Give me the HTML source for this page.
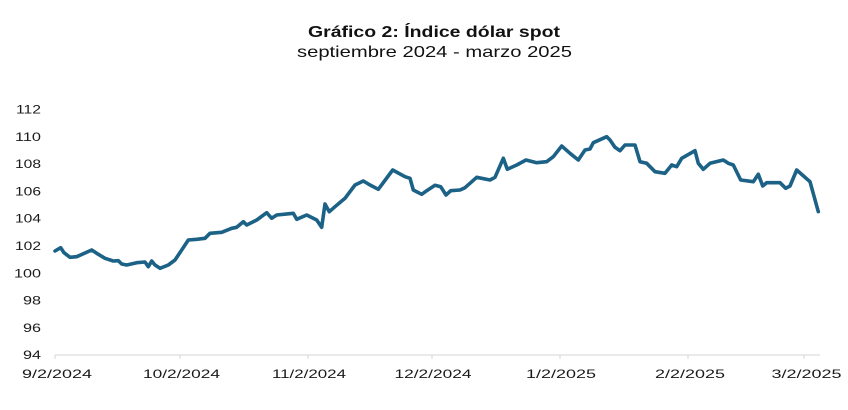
<!DOCTYPE html>
<html>
<head>
<meta charset="utf-8">
<style>
  html,body{margin:0;padding:0;background:#fff;}
  svg{display:block;}
  text{font-family:"Liberation Sans", sans-serif;fill:#1a1a1a;}
</style>
</head>
<body>
<svg width="848" height="410" viewBox="0 0 848 410" xmlns="http://www.w3.org/2000/svg">
  <rect width="848" height="410" fill="#fff"/>
  <text x="434" y="37" text-anchor="middle" font-size="16" font-weight="bold" textLength="252" lengthAdjust="spacingAndGlyphs" style="fill:#111">Gráfico 2: Índice dólar spot</text>
  <text x="434.5" y="57" text-anchor="middle" font-size="16" textLength="275" lengthAdjust="spacingAndGlyphs" style="fill:#111">septiembre 2024 - marzo 2025</text>

  <g font-size="11.5" text-anchor="end">
    <text x="41" y="113.5" textLength="25" lengthAdjust="spacingAndGlyphs">112</text>
    <text x="41" y="140.8" textLength="26" lengthAdjust="spacingAndGlyphs">110</text>
    <text x="41" y="168.1" textLength="26" lengthAdjust="spacingAndGlyphs">108</text>
    <text x="41" y="195.4" textLength="26" lengthAdjust="spacingAndGlyphs">106</text>
    <text x="41" y="222.7" textLength="26" lengthAdjust="spacingAndGlyphs">104</text>
    <text x="41" y="250" textLength="26" lengthAdjust="spacingAndGlyphs">102</text>
    <text x="41" y="277.3" textLength="27" lengthAdjust="spacingAndGlyphs">100</text>
    <text x="41" y="304.6" textLength="18" lengthAdjust="spacingAndGlyphs">98</text>
    <text x="41" y="331.9" textLength="18" lengthAdjust="spacingAndGlyphs">96</text>
    <text x="41" y="359.2" textLength="18" lengthAdjust="spacingAndGlyphs">94</text>
  </g>

  <line x1="55" y1="355" x2="820" y2="355" stroke="#d4d4d4" stroke-width="1"/>
  <g stroke="#d4d4d4" stroke-width="1">
    <line x1="55" y1="355" x2="55" y2="359"/>
    <line x1="180" y1="355" x2="180" y2="359"/>
    <line x1="308" y1="355" x2="308" y2="359"/>
    <line x1="432" y1="355" x2="432" y2="359"/>
    <line x1="560" y1="355" x2="560" y2="359"/>
    <line x1="688" y1="355" x2="688" y2="359"/>
    <line x1="804" y1="355" x2="804" y2="359"/>
  </g>

  <g font-size="12" text-anchor="middle">
    <text x="57" y="378" textLength="70" lengthAdjust="spacingAndGlyphs">9/2/2024</text>
    <text x="181.5" y="378" textLength="77" lengthAdjust="spacingAndGlyphs">10/2/2024</text>
    <text x="309" y="378" textLength="74" lengthAdjust="spacingAndGlyphs">11/2/2024</text>
    <text x="433" y="378" textLength="77" lengthAdjust="spacingAndGlyphs">12/2/2024</text>
    <text x="561" y="378" textLength="70" lengthAdjust="spacingAndGlyphs">1/2/2025</text>
    <text x="690" y="378" textLength="70" lengthAdjust="spacingAndGlyphs">2/2/2025</text>
    <text x="806.5" y="378" textLength="70" lengthAdjust="spacingAndGlyphs">3/2/2025</text>
  </g>

  <polyline fill="none" stroke="#1c6186" stroke-width="3.6" stroke-linejoin="round" stroke-linecap="round"
    points="55,251 60.7,247.7 64,252.7 70,257.3 76.7,256.7 91.7,250 96.7,253.3 105,258.3 113.3,261 118.3,260.7 121.7,264 126.7,265 136.7,262.7 145,262 148.3,266.7 151.7,261 155,265 160,268.3 168.3,265 175,260 181.7,250 188.3,240 196.7,239.3 205,238.3 210,233.3 221.7,232.3 231.7,228.3 236.7,227.3 243.3,221.7 246.7,225 256.7,220 266.7,212.7 271.7,218.3 276.7,215 293.3,213.3 296.7,219.3 306.7,215 316.7,220 321.7,227.3 325,204 329.3,211.7 335,206.7 345,198.3 355,185 363.3,181 370,185 378.3,189.3 392.7,170 405,176.7 410,178.3 413.3,190 421.7,194.3 426.7,190.7 435,185.3 440.7,186.7 446,195 450.7,190.7 460,190 465,187.7 476.7,177.3 490,180 495,177.3 503.3,158.3 507.3,169.3 516.7,165 526,160 536.7,162.7 546.7,161.7 553.3,156.7 561.7,146 570,153.3 578.3,160 585,150 590,149 593.3,142.7 606.7,136.7 610,140 615,147.3 620,150.7 625,145 635,145 640,161.7 646.7,163.3 655,171.7 665,173.3 671.7,165 676.7,166.7 681.7,158.3 695,150.7 698.3,163.3 703.3,169.3 710,163.3 723.3,160 728.3,163.3 733.3,165 740.7,180 753.3,181.7 758.3,174.3 762.7,186 766.7,182.7 780,182.7 785.7,188.3 790,186 796.7,170 810,181.7 818.3,211.7"/>
</svg>
</body>
</html>
